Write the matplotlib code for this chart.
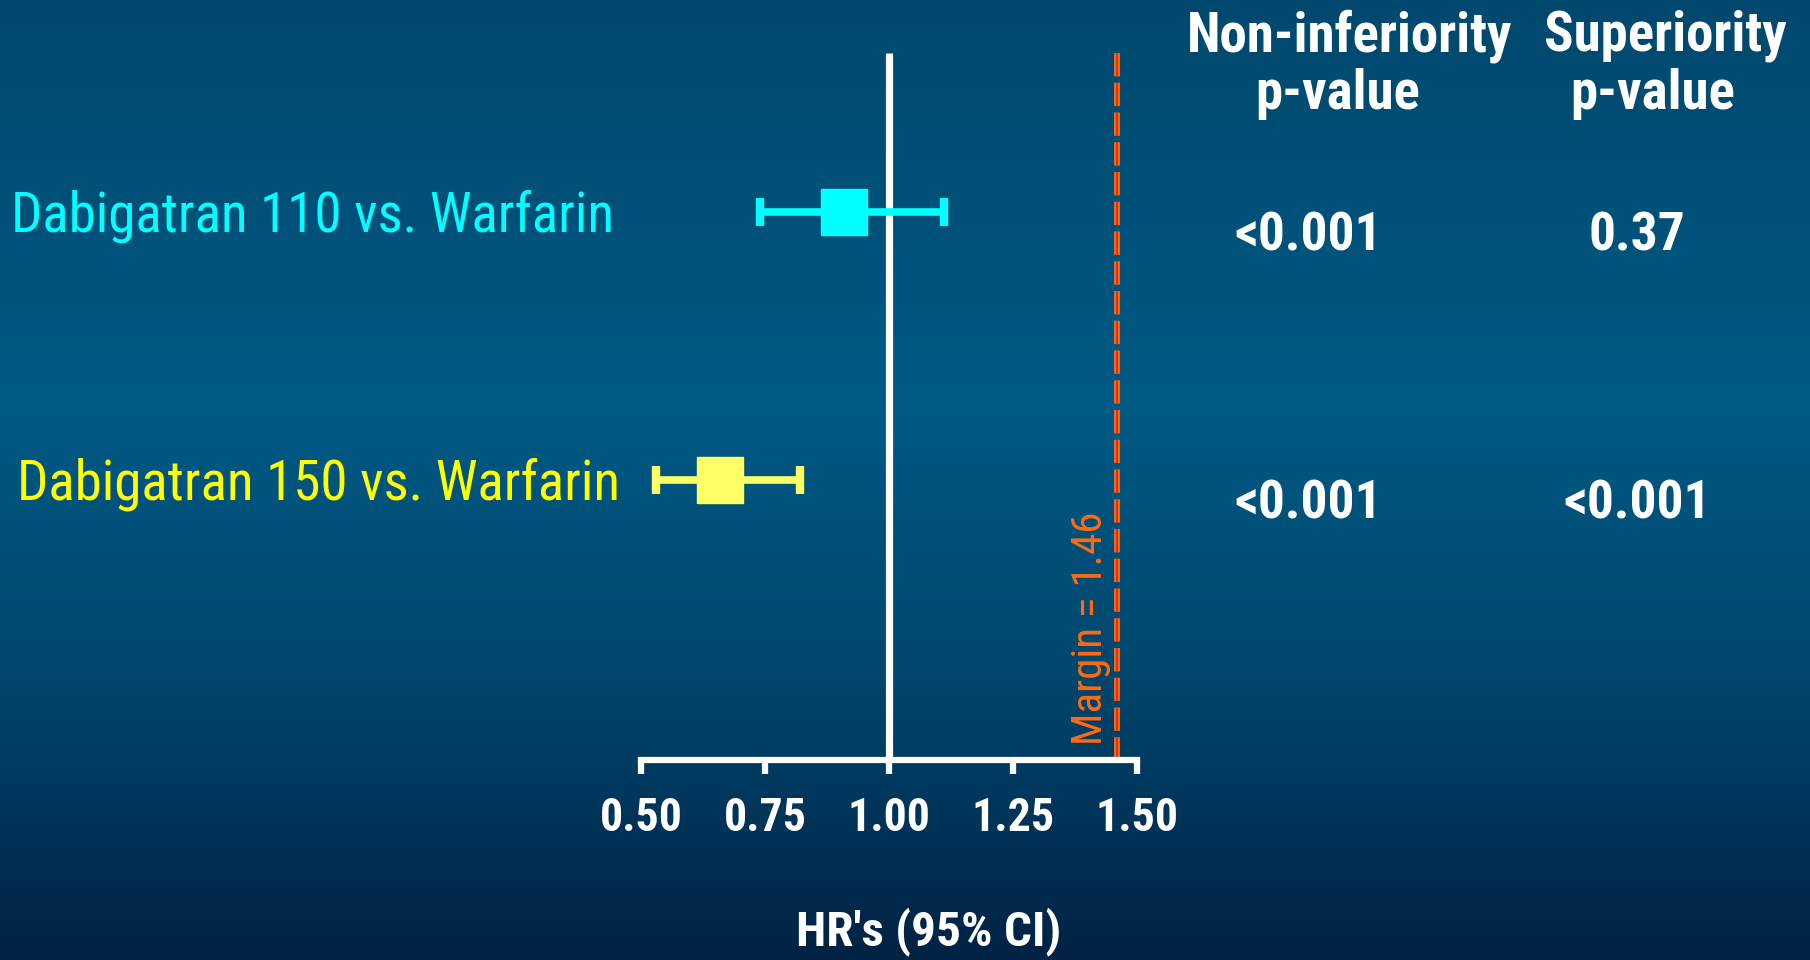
import numpy as np
import matplotlib.pyplot as plt
from matplotlib.colors import LinearSegmentedColormap

# Hazard ratios with 95% CI
labels = ["Dabigatran 110 vs. Warfarin", "Dabigatran 150 vs. Warfarin"]
hr = [0.91, 0.66]
ci_low = [0.74, 0.53]
ci_high = [1.11, 0.82]
p_noninf = ["<0.001", "<0.001"]
p_sup = ["0.37", "<0.001"]
margin = 1.46
ticks = [0.50, 0.75, 1.00, 1.25, 1.50]
tick_labels = ["0.50", "0.75", "1.00", "1.25", "1.50"]

colors = ["#00ffff", "#ffff66"]
label_colors = ["#00ffff", "#ffff00"]

W, H = 1810, 960
fig = plt.figure(figsize=(W / 100, H / 100), dpi=100)

# background gradient
bg = fig.add_axes([0, 0, 1, 1])
grad = LinearSegmentedColormap.from_list(
    "bg", [(0.0, "#00486e"), (0.42, "#005a84"), (0.7, "#00476e"), (1.0, "#002244")])
bg.imshow(np.linspace(0, 1, 256).reshape(-1, 1), aspect="auto", cmap=grad,
          extent=[0, 1, 0, 1], origin="upper")
bg.set_axis_off()

# main axes: x in HR units, y in pixel rows from the top
x0_px, px_per_unit = 641, 496
ax = fig.add_axes([0, 0, 1, 1])
ax.set_xlim(0.5 - x0_px / px_per_unit, 0.5 + (W - x0_px) / px_per_unit)
ax.set_ylim(H, 0)
ax.set_axis_off()

cond = ["Roboto Condensed", "DejaVu Sans"]
row_y = [212, 480]
axis_y = 760
top_y = 53

# reference line at 1 and non-inferiority margin
ax.plot([1.0, 1.0], [top_y, axis_y], color="white", lw=5.2, solid_capstyle="butt", zorder=2)
ax.plot([margin, margin], [top_y, axis_y], color="#ff6a10", lw=4.2,
        dashes=(4, 1.1), zorder=2)
ax.plot([margin, margin], [top_y, axis_y], color="#e03020", lw=1.4,
        dashes=(12.0, 3.3), zorder=3)
ax.text(margin - 0.053, axis_y - 15, "Margin = 1.46", rotation=90, color="#ff6a10",
        fontsize=31, family=cond, ha="center", va="bottom")

# x axis with downward ticks
ax.plot([ticks[0], ticks[-1]], [axis_y, axis_y], color="white", lw=4.5,
        solid_capstyle="projecting", zorder=4)
for t, tl in zip(ticks, tick_labels):
    ax.plot([t, t], [axis_y, axis_y + 14], color="white", lw=4.5,
            solid_capstyle="butt", zorder=4)
    ax.text(t, 818, tl, color="white", fontsize=33, fontweight="bold",
            family=cond, ha="center", va="center")
ax.text(0.5 + 288 / px_per_unit, 932, "HR's (95% CI)", color="white", fontsize=35.5,
        fontweight="bold", family=cond, ha="center", va="center")

# estimates with confidence intervals
for i in range(len(hr)):
    y = row_y[i]
    c = colors[i]
    ax.plot([ci_low[i], ci_high[i]], [y, y], color=c, lw=5.5,
            solid_capstyle="butt", zorder=5)
    for e in (ci_low[i], ci_high[i]):
        ax.plot([e, e], [y - 14, y + 14], color=c, lw=6, solid_capstyle="butt", zorder=5)
    ax.plot(hr[i], y, marker="s", markersize=33, color=c, mec=c, zorder=6)
    ax.text(0.5 - (630 - 6 * i) / px_per_unit, y + 4, labels[i], color=label_colors[i],
            fontsize=39.5, family=cond, ha="left", va="center")

# p-value columns
col_x = [1308, 1637]
hdr_x = [1350, 1665]
for xp, hdr in zip(hdr_x, ["Non-inferiority", "Superiority"]):
    fig.text(xp / W, 1 - 36 / H, hdr, color="white", fontsize=39.5, fontweight="bold",
             family=cond, ha="center", va="center")
    fig.text((xp - 12) / W, 1 - 94 / H, "p-value", color="white", fontsize=39.5,
             fontweight="bold", family=cond, ha="center", va="center")
for i in range(len(hr)):
    fig.text(col_x[0] / W, 1 - (row_y[i] + 24) / H, p_noninf[i], color="white",
             fontsize=38.5, fontweight="bold", family=cond, ha="center", va="center")
    fig.text(col_x[1] / W, 1 - (row_y[i] + 24) / H, p_sup[i], color="white",
             fontsize=38.5, fontweight="bold", family=cond, ha="center", va="center")

fig.savefig("out.png", dpi=100)
